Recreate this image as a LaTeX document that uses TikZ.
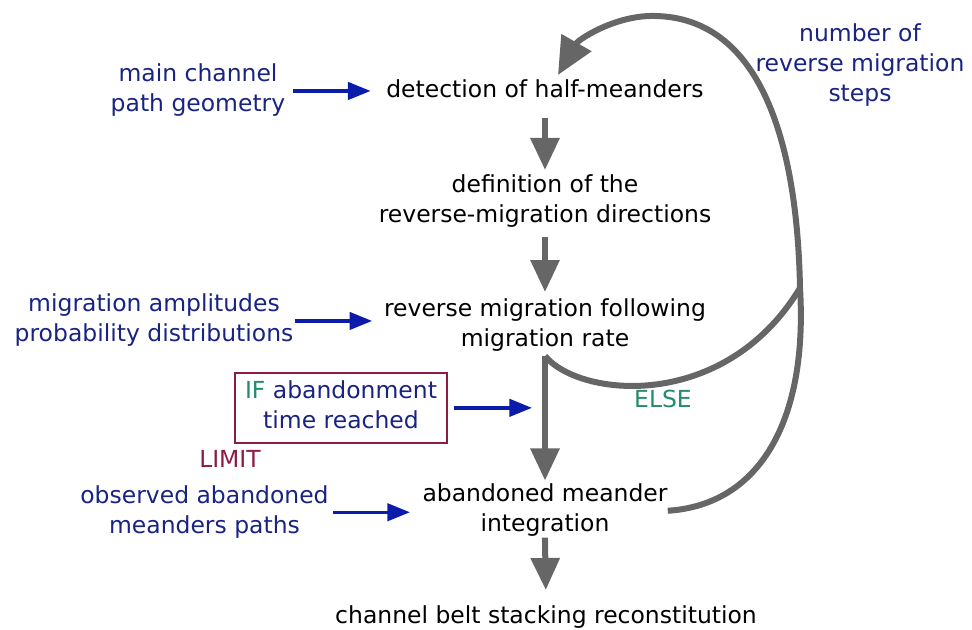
\documentclass[tikz,border=0pt]{standalone}
\usepackage{fontspec}
\setmainfont{DejaVu Sans}
\usetikzlibrary{arrows.meta,calc}
\definecolor{navytxt}{RGB}{25,35,130}
\definecolor{arrblue}{RGB}{12,28,170}
\definecolor{tealtxt}{RGB}{35,140,110}
\definecolor{maroontxt}{RGB}{140,28,70}
\definecolor{grayline}{RGB}{102,102,102}
\begin{document}
\begin{tikzpicture}[x=0.75pt,y=-0.75pt,
  txt/.style={font=\fontsize{17.6}{22.5}\selectfont, inner sep=0pt, align=center, anchor=north},
  mainbox/.style={txt},
  sidebox/.style={txt, text=navytxt},
  gline/.style={draw=grayline, line width=4.5pt},
  garrow/.style={gline, -{Triangle[length=24pt,width=21pt]}},
  bigarrow/.style={gline, -{Triangle[length=28pt,width=25pt]}},
  barrow/.style={draw=arrblue, line width=2.6pt, -{Triangle[length=17pt,width=13pt]}}
  ]
\useasboundingbox (0,0) rectangle (972,630);

% main column
\node[mainbox] (n1) at (545,76) {\strut detection of half-meanders};
\node[mainbox] (n2) at (545,171) {\strut definition of the\\\strut reverse-migration directions};
\node[mainbox] (n3) at (545,295.5) {\strut reverse migration following\\\strut migration rate};
\node[mainbox] (n4) at (545,480.5) {\strut abandoned meander\\\strut integration};
\node[mainbox] (n5) at (546,602) {\strut channel belt stacking reconstitution};

% side inputs
\node[sidebox] (L1) at (198,60.7) {\strut main channel\\\strut path geometry};
\node[sidebox] (L2) at (154,290.7) {\strut migration amplitudes\\\strut probability distributions};
\node[sidebox] (L4) at (204.5,482) {\strut observed abandoned\\\strut meanders paths};
\node[sidebox] (R1) at (860,20.7) {\strut number of\\\strut reverse migration\\\strut steps};

\node[txt, anchor=center, draw=maroontxt, line width=1.5pt, inner xsep=7.3pt, inner ysep=4pt, text=navytxt] (B) at (341,407.85)
  {\strut\textcolor{tealtxt}{IF} abandonment\\\strut time reached};
\node[txt, anchor=base, text=maroontxt] (lim) at (230,468) {LIMIT};
\node[txt, anchor=base, text=tealtxt] (else) at (663,408) {ELSE};

\coordinate (split) at (n3.south);
\coordinate (merge) at (800,288);

% gray flow
\draw[garrow, shorten <=8.25pt, shorten >=0.75pt] (n1.south) -- (n2.north);
\draw[garrow, shorten <=3.75pt, shorten >=2.6pt] (n2.south) -- (n3.north);
\draw[garrow] (split) -- (n4.north);
\draw[garrow, shorten <=-2.6pt, shorten >=9pt] (n4.south) -- (n5.north);
\draw[gline] (split) .. controls (580,398) and (725,412) .. (merge);
\draw[bigarrow] (n4.east) .. controls (760,505) and (808,420) .. (merge)
  .. controls (797,130) and (755,14) .. (650,16)
  .. controls (612,17) and (578,40) .. ($(n1.north)+(13,-1)$);

% blue inputs
\draw[barrow, shorten <=5.7pt, shorten >=11.6pt] (L1.east) -- (L1.east -| n1.west);
\draw[barrow, shorten <=0.8pt, shorten >=8.7pt] (L2.east) -- (L2.east -| n3.west);
\draw[barrow, shorten <=4.5pt, shorten >=9.75pt] (B.east) -- (B.east -| split);
\draw[barrow, shorten <=3.2pt, shorten >=9.2pt] (L4.east) -- (L4.east -| n4.west);
\end{tikzpicture}
\end{document}
